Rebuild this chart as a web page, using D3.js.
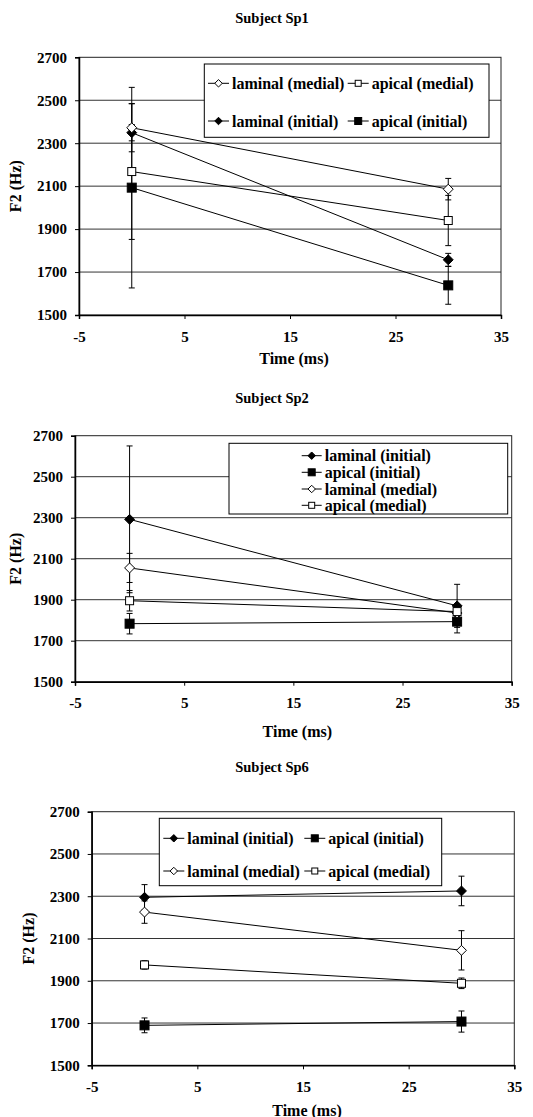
<!DOCTYPE html>
<html><head><meta charset="utf-8">
<script src="https://cdn.jsdelivr.net/npm/d3@7"></script>
<style>
html,body{margin:0;padding:0;background:#fff;}
svg{display:block;}
svg text{font-family:"Liberation Serif","Times New Roman",serif !important;font-weight:bold;fill:#000;}
</style></head>
<body><svg id="c" width="533" height="1117"></svg>
<script>
// ---- data ----
const times = [0, 30];
const xTicks = [-5, 5, 15, 25, 35];
const yTicks = [1500, 1700, 1900, 2100, 2300, 2500, 2700];
const seriesKeys = ["lamInit", "apInit", "lamMed", "apMed"];
const seriesLabels = {lamInit: "laminal (initial)", apInit: "apical (initial)", lamMed: "laminal (medial)", apMed: "apical (medial)"};

const sp1Title = "Subject Sp1";
const sp1LamInit = [2349, 1757], sp1LamInitErr = [38, 30];
const sp1ApInit = [2093, 1638], sp1ApInitErr = [467, 88];
const sp1LamMed = [2372, 2086], sp1LamMedErr = [112, 50];
const sp1ApMed = [2168, 1940], sp1ApMedErr = [316, 117];
const sp1LegendOrder = ["lamMed", "apMed", "lamInit", "apInit"];

const sp2Title = "Subject Sp2";
const sp2LamInit = [2292, 1870], sp2LamInitErr = [358, 105];
const sp2ApInit = [1783, 1793], sp2ApInitErr = [50, 55];
const sp2LamMed = [2055, 1835], sp2LamMedErr = [71, 30];
const sp2ApMed = [1895, 1842], sp2ApMedErr = [50, 25];
const sp2LegendOrder = ["lamInit", "apInit", "lamMed", "apMed"];

const sp6Title = "Subject Sp6";
const sp6LamInit = [2295, 2325], sp6LamInitErr = [60, 70];
const sp6ApInit = [1689, 1707], sp6ApInitErr = [35, 50];
const sp6LamMed = [2225, 2044], sp6LamMedErr = [53, 93];
const sp6ApMed = [1975, 1888], sp6ApMedErr = [20, 25];
const sp6LegendOrder = ["lamInit", "apInit", "lamMed", "apMed"];

// ---- layout ----
const panels = [
  {title: sp1Title, titleY: 18,
   vals: {lamInit: sp1LamInit, apInit: sp1ApInit, lamMed: sp1LamMed, apMed: sp1ApMed},
   errs: {lamInit: sp1LamInitErr, apInit: sp1ApInitErr, lamMed: sp1LamMedErr, apMed: sp1ApMedErr},
   x0: 79, x1: 501, y0: 57.3, y1: 315, timeY: 358, f2X: 15,
   legend: {order: sp1LegendOrder, box: [204.3, 64, 489, 137.3], cols: [208, 347.7], rows: [83.3, 121], perRow: 2, lineW: 21}},
  {title: sp2Title, titleY: 398,
   vals: {lamInit: sp2LamInit, apInit: sp2ApInit, lamMed: sp2LamMed, apMed: sp2ApMed},
   errs: {lamInit: sp2LamInitErr, apInit: sp2ApInitErr, lamMed: sp2LamMedErr, apMed: sp2ApMedErr},
   x0: 75, x1: 511.7, y0: 435.7, y1: 681.7, timeY: 731, f2X: 15,
   legend: {order: sp2LegendOrder, box: [229, 443.3, 507.7, 514], cols: [301.7], rows: [455.7, 472.3, 489, 505.3], perRow: 1, lineW: 20}},
  {title: sp6Title, titleY: 767,
   vals: {lamInit: sp6LamInit, apInit: sp6ApInit, lamMed: sp6LamMed, apMed: sp6ApMed},
   errs: {lamInit: sp6LamInitErr, apInit: sp6ApInitErr, lamMed: sp6LamMedErr, apMed: sp6ApMedErr},
   x0: 91.7, x1: 514.3, y0: 811.7, y1: 1065.3, timeY: 1110, f2X: 28,
   legend: {order: sp6LegendOrder, box: [159.3, 818.3, 441.7, 885.7], cols: [163.3, 304.3], rows: [838.3, 871], perRow: 2, lineW: 21}}
];

const svg = d3.select("#c");
const fmt = d => String(d); // plain hyphen minus, as in the original

function marker(g, key, cx, cy, s) {
  const filled = key === "lamInit" || key === "apInit";
  const isDiamond = key === "lamInit" || key === "lamMed";
  if (isDiamond) {
    const r = s * 0.62;
    g.append("path").attr("d", `M${cx},${cy - r}L${cx + r},${cy}L${cx},${cy + r}L${cx - r},${cy}Z`)
      .attr("fill", filled ? "#000" : "#fff").attr("stroke", "#000").attr("stroke-width", 1);
  } else {
    const h = s / 2;
    g.append("rect").attr("x", cx - h).attr("y", cy - h).attr("width", s).attr("height", s)
      .attr("fill", filled ? "#000" : "#fff").attr("stroke", "#000").attr("stroke-width", 1);
  }
}

panels.forEach(p => {
  const x = d3.scaleLinear().domain([-5, 35]).range([p.x0, p.x1]);
  const y = d3.scaleLinear().domain([1500, 2700]).range([p.y1, p.y0]);
  const g = svg.append("g");

  g.append("text").attr("x", 272).attr("y", p.titleY).attr("text-anchor", "middle")
    .attr("dominant-baseline", "central").attr("font-size", 14.5).text(p.title);

  g.append("g").selectAll("line").data(yTicks.slice(1, -1)).join("line")
    .attr("x1", p.x0).attr("x2", p.x1).attr("y1", d => y(d)).attr("y2", d => y(d))
    .attr("stroke", "#333").attr("stroke-width", 1);

  g.append("rect").attr("x", p.x0).attr("y", p.y0).attr("width", p.x1 - p.x0).attr("height", p.y1 - p.y0)
    .attr("fill", "none").attr("stroke", "#222").attr("stroke-width", 1);

  const yAx = g.append("g").attr("transform", `translate(${p.x0},0)`)
    .call(d3.axisLeft(y).tickValues(yTicks).tickSize(4).tickPadding(8).tickFormat(fmt));
  const xAx = g.append("g").attr("transform", `translate(0,${p.y1})`)
    .call(d3.axisBottom(x).tickValues(xTicks).tickSize(4).tickPadding(12).tickFormat(fmt));
  [yAx, xAx].forEach(a => {
    a.attr("font-family", null).attr("font-size", 15);
    a.select(".domain").attr("stroke", "#000").attr("stroke-width", 1.5);
    a.selectAll(".tick line").attr("stroke", "#000");
  });

  g.append("text").attr("x", (p.x0 + p.x1) / 2 + 4).attr("y", p.timeY).attr("text-anchor", "middle")
    .attr("dominant-baseline", "central").attr("font-size", 16).text("Time (ms)");
  g.append("text").attr("transform", `translate(${p.f2X},${(p.y0 + p.y1) / 2}) rotate(-90)`)
    .attr("text-anchor", "middle").attr("dominant-baseline", "central").attr("font-size", 16).text("F2 (Hz)");

  seriesKeys.forEach(k => {
    times.forEach((t, i) => {
      const v = p.vals[k][i], e = p.errs[k][i];
      const cx = x(t);
      g.append("line").attr("x1", cx).attr("x2", cx).attr("y1", y(v - e)).attr("y2", y(v + e)).attr("stroke", "#000");
      [v - e, v + e].forEach(b => g.append("line").attr("x1", cx - 3).attr("x2", cx + 3)
        .attr("y1", y(b)).attr("y2", y(b)).attr("stroke", "#000"));
    });
  });
  const line = d3.line().x((d, i) => x(times[i])).y(d => y(d));
  seriesKeys.forEach(k => {
    g.append("path").attr("d", line(p.vals[k])).attr("fill", "none").attr("stroke", "#000").attr("stroke-width", 1);
  });
  seriesKeys.forEach(k => {
    times.forEach((t, i) => marker(g, k, x(t), y(p.vals[k][i]), (k === "apInit") ? 9 : 8));
  });

  const L = p.legend;
  g.append("rect").attr("x", L.box[0]).attr("y", L.box[1]).attr("width", L.box[2] - L.box[0])
    .attr("height", L.box[3] - L.box[1]).attr("fill", "#fff").attr("stroke", "#000").attr("stroke-width", 1);
  L.order.forEach((k, idx) => {
    const col = idx % L.perRow, row = Math.floor(idx / L.perRow);
    const lx = L.cols[col], ly = L.rows[row];
    g.append("line").attr("x1", lx).attr("x2", lx + L.lineW).attr("y1", ly).attr("y2", ly).attr("stroke", "#000");
    marker(g, k, lx + L.lineW / 2, ly, k === "apInit" ? 7 : 6);
    g.append("text").attr("x", lx + L.lineW + 3).attr("y", ly).attr("dominant-baseline", "central")
      .attr("font-size", 16).text(seriesLabels[k]);
  });
});
</script></body></html>
